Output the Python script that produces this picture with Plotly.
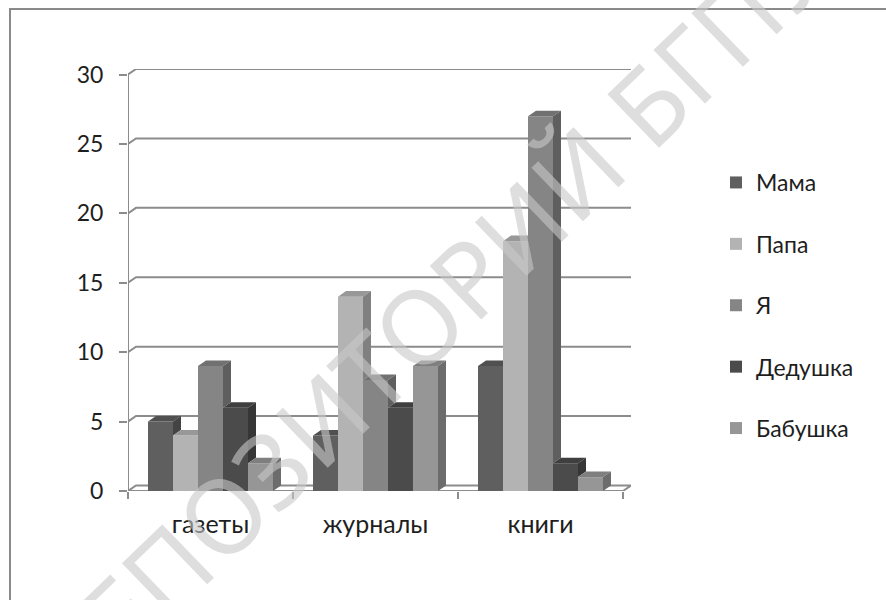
import plotly.graph_objects as go

# ---- data -------------------------------------------------------------
categories = ["газеты", "журналы", "книги"]
series_names = ["Мама", "Папа", "Я", "Дедушка", "Бабушка"]
mama = [5, 4, 9]
papa = [4, 14, 18]
ya = [9, 8, 27]
dedushka = [6, 6, 2]
babushka = [2, 9, 1]
series_values = [mama, papa, ya, dedushka, babushka]
y_ticks = [0, 5, 10, 15, 20, 25, 30]

front_colors = ["#5f5f5f", "#b3b3b3", "#858585", "#4b4b4b", "#969696"]

# ---- geometry of the pseudo-3D box (data units) -----------------------
W = 0.1515          # width of one column
DX = 0.0485         # depth offset along x
DY = 0.40           # depth offset along y
X_LO, X_HI = -0.5, len(categories) - 0.5
Y_MAX = max(y_ticks)
GRID = "#8c8c8c"
FONT = "Lato, 'Open Sans', sans-serif"


def shade(hex_color, k):
    r, g, b = (int(hex_color[i:i + 2], 16) for i in (1, 3, 5))
    return "#%02x%02x%02x" % (int(r * k), int(g * k), int(b * k))


fig = go.Figure()

# front faces
for j, (name, vals) in enumerate(zip(series_names, series_values)):
    fig.add_trace(go.Bar(
        x=list(range(len(categories))), y=vals, width=W,
        offset=-2.5 * W + j * W, name=name, legendgroup=name,
        marker=dict(color=front_colors[j], line=dict(width=0)),
        hoverinfo="skip",
    ))

# top and side faces
for i in range(len(categories)):
    for j, vals in enumerate(series_values):
        h = vals[i]
        x0 = i - 2.5 * W + j * W
        x1 = x0 + W
        nxt = series_values[j + 1][i] if j + 1 < len(series_values) else 0
        col = front_colors[j]
        # top face, its right corner hidden when the next column is taller
        if nxt >= h + DY:
            tx = [x0, x0 + DX, x1, x1, x0]
        else:
            tx = [x0, x0 + DX, x1 + DX, x1, x0]
        ty = [h, h + DY, h + DY, h, h]
        fig.add_trace(go.Scatter(
            x=tx, y=ty, mode="lines", fill="toself",
            fillcolor=shade(col, 0.85), line=dict(width=0),
            showlegend=False, hoverinfo="skip"))
        # side face, visible only above the neighbouring column
        if h > nxt:
            sx = [x1, x1, x1 + DX, x1 + DX, x1]
            sy = [nxt, h, h + DY, nxt + DY, nxt]
            fig.add_trace(go.Scatter(
                x=sx, y=sy, mode="lines", fill="toself",
                fillcolor=shade(col, 0.72), line=dict(width=0),
                showlegend=False, hoverinfo="skip"))

shapes = []
# back-wall gridlines
for v in y_ticks[1:]:
    shapes.append(dict(
        type="path", xref="x", yref="y", layer="below",
        path=f"M {X_LO},{v} L {X_LO + DX},{v + DY} L {X_HI + DX},{v + DY}",
        line=dict(color=GRID, width=2)))
# floor
shapes.append(dict(
    type="path", xref="x", yref="y", layer="below",
    path=(f"M {X_LO},0 L {X_HI},0 L {X_HI + DX},{DY} "
          f"L {X_LO + DX},{DY} Z"),
    fillcolor="white", line=dict(color=GRID, width=2)))
# vertical axis line
shapes.append(dict(
    type="line", xref="x", yref="y", layer="below",
    x0=X_LO, x1=X_LO, y0=0, y1=Y_MAX,
    line=dict(color=GRID, width=2)))
# chart frame
shapes.append(dict(
    type="rect", xref="paper", yref="paper", layer="below",
    x0=(10 - 128) / 503, x1=(900 - 128) / 503,
    y0=(491 - 620) / 422, y1=(491 - 9) / 422,
    line=dict(color="#8a8a8a", width=2), fillcolor="rgba(0,0,0,0)"))

fig.update_layout(
    width=886, height=600, autosize=False,
    margin=dict(l=128, r=255, t=69, b=109),
    paper_bgcolor="white", plot_bgcolor="rgba(0,0,0,0)",
    barmode="overlay", showlegend=True,
    shapes=shapes,
    font=dict(family=FONT, size=23, color="#1e1e1e"),
    legend=dict(
        x=(716 - 128) / 503, y=(491 - 161) / 422,
        xanchor="left", yanchor="top",
        tracegroupgap=28.5, traceorder="grouped",
        bgcolor="rgba(0,0,0,0)",
        font=dict(family=FONT, size=23, color="#1e1e1e"),
    ),
    xaxis=dict(
        range=[X_LO, X_HI + DX], showgrid=False, zeroline=False,
        showline=False, tickmode="array",
        tickvals=list(range(len(categories))), ticktext=categories,
        ticks="", ticklabelstandoff=16,
        tickfont=dict(family=FONT, size=25, color="#1e1e1e"),
        minor=dict(tickmode="array",
                   tickvals=[X_LO + k for k in range(len(categories) + 1)],
                   ticks="outside", ticklen=7, tickwidth=2,
                   tickcolor=GRID, showgrid=False),
        fixedrange=True,
    ),
    yaxis=dict(
        range=[0, Y_MAX + DY], showgrid=False, zeroline=False,
        showline=False, tickmode="array", tickvals=y_ticks,
        ticks="outside", ticklen=8, tickwidth=2, tickcolor=GRID,
        ticklabelstandoff=11,
        tickfont=dict(family=FONT, size=23, color="#1e1e1e"),
        fixedrange=True,
    ),
    annotations=[dict(
        text="РЕПОЗИТОРИЙ БГПУ", xref="paper", yref="paper",
        x=(430 - 128) / 503, y=(491 - 312) / 422,
        xanchor="center", yanchor="middle", showarrow=False,
        textangle=-44,
        font=dict(family="'Noto Sans', sans-serif", size=104,
                  color="rgba(200,200,200,0.6)"),
    )],
)

fig.write_html("out.html", config={"displayModeBar": False})
